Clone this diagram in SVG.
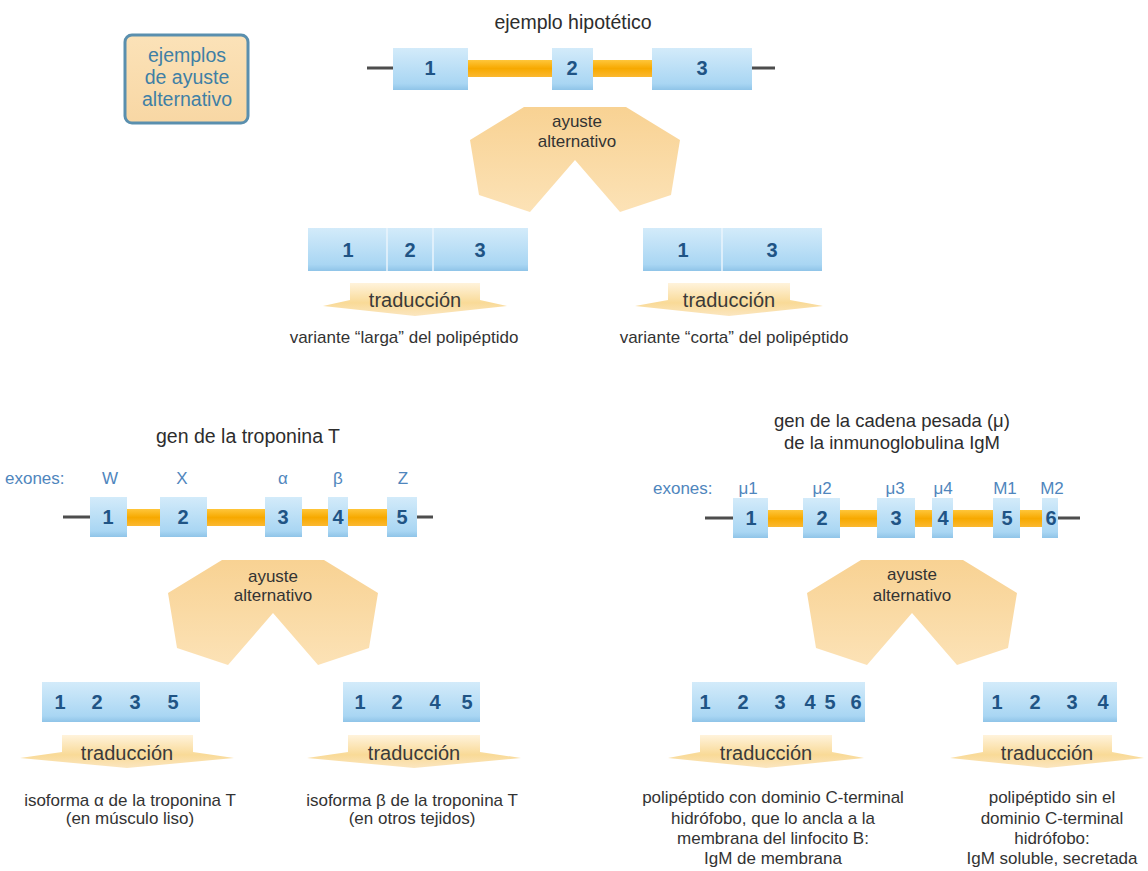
<svg xmlns="http://www.w3.org/2000/svg" width="1148" height="871" viewBox="0 0 1148 871">
<defs>
<linearGradient id="gExon" x1="0" y1="0" x2="0" y2="1">
<stop offset="0" stop-color="#d3ebfa"/><stop offset="0.85" stop-color="#a9d6f3"/><stop offset="1" stop-color="#8fc4e8"/>
</linearGradient>
<linearGradient id="gIntron" x1="0" y1="0" x2="0" y2="1">
<stop offset="0" stop-color="#ffc63a"/><stop offset="0.5" stop-color="#f7a900"/><stop offset="1" stop-color="#fbb830"/>
</linearGradient>
<linearGradient id="gSplit" x1="0" y1="0" x2="0" y2="1">
<stop offset="0" stop-color="#f8d293"/><stop offset="1" stop-color="#fce2b6"/>
</linearGradient>
<linearGradient id="gTrad" x1="0" y1="0" x2="0" y2="1">
<stop offset="0" stop-color="#fff3dc"/><stop offset="0.6" stop-color="#f9da97"/><stop offset="1" stop-color="#fbe6c0"/>
</linearGradient>
<linearGradient id="gBox" x1="0" y1="0" x2="0" y2="1">
<stop offset="0" stop-color="#fbe2b8"/><stop offset="1" stop-color="#f8d7a4"/>
</linearGradient>
<path id="split" d="M-51,0 H51 L105,33 L96,88 L45,105 L0,53 L-45,105 L-96,88 L-105,33 Z"/>
</defs>
<style>
text{font-family:"Liberation Sans","Arial",sans-serif;}
.t{font-size:19.5px;fill:#2d2d2d;text-anchor:middle;}
.t2{font-size:18.5px;fill:#2d2d2d;text-anchor:middle;}
.s{font-size:17px;fill:#333;text-anchor:middle;}
.n{font-size:20px;font-weight:bold;fill:#1f5485;text-anchor:middle;}
.l{font-size:17px;fill:#4f86bd;text-anchor:middle;}
.tr{font-size:20px;fill:#3a3a3a;text-anchor:middle;}
.ay{font-size:17px;fill:#333;text-anchor:middle;}
.exon{fill:url(#gExon);}
.intron{fill:url(#gIntron);}
.dna{stroke:#4d4d4d;stroke-width:3;fill:none;}
.mrna{fill:url(#gExon);}
.div{stroke:#eaf5fc;stroke-width:1.5;}
.split{fill:url(#gSplit);}
.trad{fill:url(#gTrad);}
</style>
<rect width="1148" height="871" fill="#ffffff"/>

<g id="legend">
<rect x="125" y="35" width="123" height="88" rx="7" fill="url(#gBox)" stroke="#5a8fae" stroke-width="3"/>
<text x="187" y="62" style="font-size:19.5px;fill:#3f7fa5;text-anchor:middle">ejemplos</text>
<text x="187" y="84" style="font-size:19.5px;fill:#3f7fa5;text-anchor:middle">de ayuste</text>
<text x="187" y="106" style="font-size:19.5px;fill:#3f7fa5;text-anchor:middle">alternativo</text>
</g>

<g id="connectors">
<use href="#split" class="split" transform="translate(575,107)"/>
<use href="#split" class="split" transform="translate(273,560)"/>
<use href="#split" class="split" transform="translate(912,560)"/>
<path class="trad" d="M350,283 H480 V300 L507,306 L415,316 L323,306 L350,300 Z"/>
<path class="trad" d="M668,283 H790 V300 L823,306 L729,316 L635,306 L668,300 Z"/>
<path class="trad" d="M62,735 H193 V752 L234,758 L127,768 L20,758 L62,752 Z"/>
<path class="trad" d="M348,735 H480 V752 L521,758 L414,768 L307,758 L348,752 Z"/>
<path class="trad" d="M700,735 H832 V752 L864,758 L766,768 L668,758 L700,752 Z"/>
<path class="trad" d="M983,735 H1112 V752 L1144,758 L1047,768 L950,758 L983,752 Z"/>
</g>

<g id="hipotetico-gen">
<text class="t" x="573" y="29">ejemplo hipotético</text>
<line class="dna" x1="367" y1="68" x2="775" y2="68"/>
<rect class="intron" x="468" y="60" width="84" height="17"/>
<rect class="intron" x="593" y="60" width="59" height="17"/>
<rect class="exon" x="393" y="48" width="75" height="42"/>
<rect class="exon" x="552" y="48" width="41" height="42"/>
<rect class="exon" x="652" y="48" width="100" height="42"/>
<text class="n" x="430" y="75">1</text>
<text class="n" x="572" y="75">2</text>
<text class="n" x="702" y="75">3</text>
</g>
<g id="hipotetico-ayuste">
<text class="ay" x="577" y="127">ayuste</text>
<text class="ay" x="577" y="147">alternativo</text>
</g>

<g id="hipotetico-larga">
<rect class="mrna" x="308" y="228" width="220" height="43"/>
<line class="div" x1="387" y1="228" x2="387" y2="271"/>
<line class="div" x1="433" y1="228" x2="433" y2="271"/>
<text class="n" x="348" y="257">1</text>
<text class="n" x="410" y="257">2</text>
<text class="n" x="480" y="257">3</text>
<text class="tr" x="415" y="307">traducción</text>
<text class="s" x="404" y="343">variante “larga” del polipéptido</text>
</g>

<g id="hipotetico-corta">
<rect class="mrna" x="643" y="228" width="179" height="43"/>
<line class="div" x1="722" y1="228" x2="722" y2="271"/>
<text class="n" x="683" y="257">1</text>
<text class="n" x="772" y="257">3</text>
<text class="tr" x="729" y="307">traducción</text>
<text class="s" x="734" y="343">variante “corta” del polipéptido</text>
</g>

<g id="troponina-gen">
<text class="t" x="248" y="443">gen de la troponina T</text>
<text x="5" y="484" style="font-size:17px;fill:#4f86bd">exones:</text>
<text class="l" x="110" y="484">W</text>
<text class="l" x="182" y="484">X</text>
<text class="l" x="283" y="484">α</text>
<text class="l" x="338" y="484">β</text>
<text class="l" x="403" y="484">Z</text>
<line class="dna" x1="63" y1="517" x2="433" y2="517"/>
<rect class="intron" x="127" y="509" width="33" height="17"/>
<rect class="intron" x="207" y="509" width="58" height="17"/>
<rect class="intron" x="302" y="509" width="26" height="17"/>
<rect class="intron" x="348" y="509" width="39" height="17"/>
<rect class="exon" x="90" y="497" width="37" height="40"/>
<rect class="exon" x="160" y="497" width="47" height="40"/>
<rect class="exon" x="265" y="497" width="37" height="40"/>
<rect class="exon" x="328" y="497" width="20" height="40"/>
<rect class="exon" x="387" y="497" width="30" height="40"/>
<text class="n" x="108" y="524">1</text>
<text class="n" x="183" y="524">2</text>
<text class="n" x="283" y="524">3</text>
<text class="n" x="338" y="524">4</text>
<text class="n" x="402" y="524">5</text>
</g>
<g id="troponina-ayuste">
<text class="ay" x="273" y="582">ayuste</text>
<text class="ay" x="273" y="601">alternativo</text>
</g>

<g id="troponina-alfa">
<rect class="mrna" x="42" y="682" width="158" height="40"/>
<text class="n" x="60" y="709">1</text>
<text class="n" x="97" y="709">2</text>
<text class="n" x="135" y="709">3</text>
<text class="n" x="173" y="709">5</text>
<text class="tr" x="127" y="760">traducción</text>
<text class="s" x="130" y="806">isoforma α de la troponina T</text>
<text class="s" x="130" y="824">(en músculo liso)</text>
</g>

<g id="troponina-beta">
<rect class="mrna" x="343" y="682" width="137" height="40"/>
<text class="n" x="360" y="709">1</text>
<text class="n" x="397" y="709">2</text>
<text class="n" x="435" y="709">4</text>
<text class="n" x="467" y="709">5</text>
<text class="tr" x="414" y="760">traducción</text>
<text class="s" x="412" y="806">isoforma β de la troponina T</text>
<text class="s" x="412" y="824">(en otros tejidos)</text>
</g>

<g id="igm-gen">
<text class="t2" x="892" y="427">gen de la cadena pesada (μ)</text>
<text class="t2" x="892" y="449">de la inmunoglobulina IgM</text>
<text x="653" y="494" style="font-size:17px;fill:#4f86bd">exones:</text>
<text class="l" x="748" y="494">μ1</text>
<text class="l" x="822" y="494">μ2</text>
<text class="l" x="895" y="494">μ3</text>
<text class="l" x="943" y="494">μ4</text>
<text class="l" x="1005" y="494">M1</text>
<text class="l" x="1052" y="494">M2</text>
<line class="dna" x1="705" y1="518" x2="1080" y2="518"/>
<rect class="intron" x="768" y="510" width="35" height="17"/>
<rect class="intron" x="840" y="510" width="37" height="17"/>
<rect class="intron" x="915" y="510" width="17" height="17"/>
<rect class="intron" x="953" y="510" width="40" height="17"/>
<rect class="intron" x="1020" y="510" width="22" height="17"/>
<rect class="exon" x="733" y="498" width="35" height="40"/>
<rect class="exon" x="803" y="498" width="37" height="40"/>
<rect class="exon" x="877" y="498" width="38" height="40"/>
<rect class="exon" x="932" y="498" width="21" height="40"/>
<rect class="exon" x="993" y="498" width="27" height="40"/>
<rect class="exon" x="1042" y="498" width="16" height="40"/>
<text class="n" x="751" y="525">1</text>
<text class="n" x="822" y="525">2</text>
<text class="n" x="896" y="525">3</text>
<text class="n" x="943" y="525">4</text>
<text class="n" x="1007" y="525">5</text>
<text class="n" x="1051" y="525">6</text>
</g>
<g id="igm-ayuste">
<text class="ay" x="912" y="580">ayuste</text>
<text class="ay" x="912" y="601">alternativo</text>
</g>

<g id="igm-membrana">
<rect class="mrna" x="692" y="682" width="173" height="40"/>
<text class="n" x="705" y="709">1</text>
<text class="n" x="743" y="709">2</text>
<text class="n" x="780" y="709">3</text>
<text class="n" x="810" y="709">4</text>
<text class="n" x="830" y="709">5</text>
<text class="n" x="856" y="709">6</text>
<text class="tr" x="766" y="760">traducción</text>
<text class="s" x="773" y="803">polipéptido con dominio C-terminal</text>
<text class="s" x="773" y="824">hidrófobo, que lo ancla a la</text>
<text class="s" x="773" y="844">membrana del linfocito B:</text>
<text class="s" x="773" y="864">IgM de membrana</text>
</g>

<g id="igm-secretada">
<rect class="mrna" x="983" y="682" width="134" height="40"/>
<text class="n" x="997" y="709">1</text>
<text class="n" x="1035" y="709">2</text>
<text class="n" x="1072" y="709">3</text>
<text class="n" x="1103" y="709">4</text>
<text class="tr" x="1047" y="760">traducción</text>
<text class="s" x="1052" y="803">polipéptido sin el</text>
<text class="s" x="1052" y="824">dominio C-terminal</text>
<text class="s" x="1052" y="844">hidrófobo:</text>
<text class="s" x="1052" y="864">IgM soluble, secretada</text>
</g>
</svg>
